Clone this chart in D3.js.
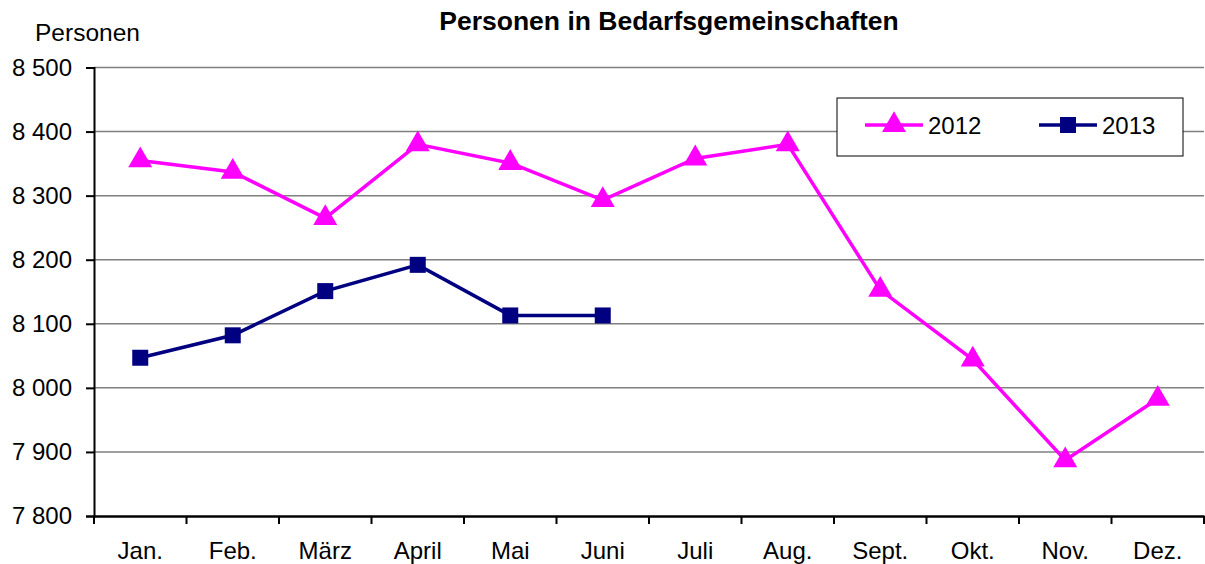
<!DOCTYPE html>
<html><head><meta charset="utf-8">
<script src="https://cdn.jsdelivr.net/npm/d3@7"></script>
<style>body{margin:0;background:#fff}svg{display:block;font-family:"Liberation Sans",Arial,sans-serif}</style>
</head><body><svg id="c" width="1205" height="564"></svg>
<script>
const months = ["Jan.","Feb.","März","April","Mai","Juni","Juli","Aug.","Sept.","Okt.","Nov.","Dez."];
const values2012 = [8355,8337,8265,8380,8351,8293,8358,8380,8153,8044,7887,7983];
const values2013 = [8047,8082,8151,8192,8113,8113];
const yTicks = [7800,7900,8000,8100,8200,8300,8400,8500];
const seriesNames = ["2012","2013"];

const svg = d3.select("#c");
const L = 94, R = 1204, T = 67.5, B = 516;
const x = d3.scaleBand().domain(months).range([L, R]);
const y = d3.scaleLinear().domain([7800, 8500]).range([B, T]);
const fmt = v => d3.format(",")(v).replace(",", " ");
const FF = "Liberation Sans, Arial, sans-serif";

svg.append("text").attr("x", 669).attr("y", 30).attr("text-anchor", "middle")
  .attr("font-size", 26.5).attr("font-weight", "bold").text("Personen in Bedarfsgemeinschaften");
svg.append("text").attr("x", 35).attr("y", 41).attr("font-size", 24.5).text("Personen");

// gridlines
svg.append("g").selectAll("line").data(yTicks.filter(t => t > 7800)).join("line")
  .attr("x1", L).attr("x2", R).attr("y1", d => y(d)).attr("y2", d => y(d))
  .attr("stroke", "#808080").attr("stroke-width", 1.5);

// y axis
const ya = svg.append("g").attr("transform", `translate(${L},0)`)
  .call(d3.axisLeft(y).tickValues(yTicks).tickFormat(fmt).tickSize(8).tickPadding(14));
ya.select(".domain").attr("stroke", "#000").attr("stroke-width", 2);
ya.selectAll(".tick line").attr("stroke", "#000").attr("stroke-width", 2);
ya.selectAll("text").attr("font-size", 24).attr("fill", "#000").attr("font-family", FF);

// x axis
const xa = svg.append("g").attr("transform", `translate(0,${B})`)
  .call(d3.axisBottom(x).tickSize(0).tickPadding(26));
xa.select(".domain").attr("stroke", "#000").attr("stroke-width", 2.5);
xa.selectAll("text").attr("font-size", 24).attr("fill", "#000").attr("font-family", FF);
const bounds = months.map(m => x(m)).concat([R]);
svg.append("g").selectAll("line").data(bounds).join("line")
  .attr("x1", d => d).attr("x2", d => d).attr("y1", B).attr("y2", B + 8)
  .attr("stroke", "#000").attr("stroke-width", 2);

const cx = m => x(m) + x.bandwidth() / 2;
const line = d3.line().x(d => cx(d.m)).y(d => y(d.v));
const d12 = values2012.map((v, i) => ({m: months[i], v}));
const d13 = values2013.map((v, i) => ({m: months[i], v}));
const tri = d3.symbol().type(d3.symbolTriangle).size(250);

svg.append("path").datum(d12).attr("d", line).attr("fill", "none").attr("stroke", "#FF00FF").attr("stroke-width", 3.5);
svg.append("g").selectAll("path").data(d12).join("path")
  .attr("transform", d => `translate(${cx(d.m)},${y(d.v)})`).attr("d", tri).attr("fill", "#FF00FF");

svg.append("path").datum(d13).attr("d", line).attr("fill", "none").attr("stroke", "#000080").attr("stroke-width", 3.5);
svg.append("g").selectAll("rect").data(d13).join("rect")
  .attr("x", d => cx(d.m) - 8).attr("y", d => y(d.v) - 8).attr("width", 16).attr("height", 16).attr("fill", "#000080");

// legend
const lg = svg.append("g");
lg.append("rect").attr("x", 837).attr("y", 98).attr("width", 346).attr("height", 58)
  .attr("fill", "#fff").attr("stroke", "#000").attr("stroke-width", 1);
const ly = 125;
lg.append("line").attr("x1", 865).attr("x2", 923).attr("y1", ly).attr("y2", ly).attr("stroke", "#FF00FF").attr("stroke-width", 3.5);
lg.append("path").attr("transform", `translate(894,${ly})`).attr("d", tri).attr("fill", "#FF00FF");
lg.append("text").attr("x", 928).attr("y", ly + 9).attr("font-size", 24).text(seriesNames[0]);
lg.append("line").attr("x1", 1039).attr("x2", 1097).attr("y1", ly).attr("y2", ly).attr("stroke", "#000080").attr("stroke-width", 3.5);
lg.append("rect").attr("x", 1060).attr("y", ly - 8).attr("width", 16).attr("height", 16).attr("fill", "#000080");
lg.append("text").attr("x", 1102).attr("y", ly + 9).attr("font-size", 24).text(seriesNames[1]);
</script></body></html>
